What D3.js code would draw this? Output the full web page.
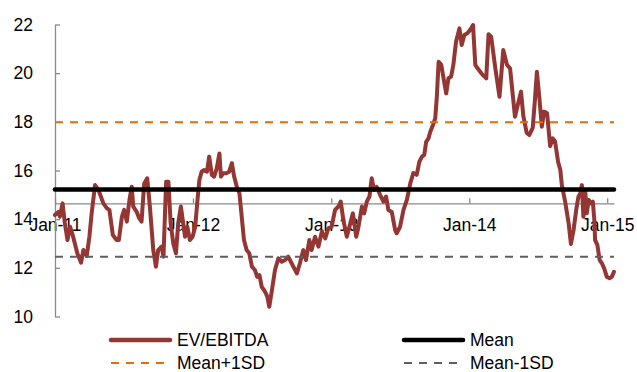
<!DOCTYPE html>
<html lang="en">
<head>
	<meta charset="UTF-8" />
	<title>EV/EBITDA</title>
	<script type="text/javascript" src="https://cdn.jsdelivr.net/npm/d3@7/dist/d3.min.js"></script>
	<style>
		body { margin: 0; background: #fff; }
		text { font-family: "Liberation Sans", Arial, sans-serif; fill: #000; }
	</style>
</head>
<body>
	<svg id="vis" width="637" height="372"></svg>
	<script type="text/javascript">
		// Dates of the EV/EBITDA readings
		var dates = [
			"2011-01-01","2011-01-10","2011-01-14","2011-01-21","2011-01-27","2011-02-03","2011-02-10","2011-02-18",
			"2011-03-01","2011-03-11","2011-03-17","2011-03-26","2011-04-02","2011-04-08","2011-04-17","2011-04-26",
			"2011-05-09","2011-05-18","2011-05-25","2011-06-03","2011-06-13","2011-06-19","2011-06-27","2011-07-03",
			"2011-07-10","2011-07-17","2011-07-23","2011-07-27","2011-08-05","2011-08-12","2011-08-18","2011-08-25",
			"2011-09-02","2011-09-09","2011-09-18","2011-09-25","2011-10-01","2011-10-10","2011-10-15","2011-10-22",
			"2011-10-28","2011-11-03","2011-11-10","2011-11-17","2011-11-23","2011-11-30","2011-12-05","2011-12-11",
			"2011-12-17","2011-12-24","2011-12-31","2012-01-07","2012-01-13","2012-01-18","2012-01-24","2012-01-30",
			"2012-02-07","2012-02-13","2012-02-20","2012-02-26","2012-03-04","2012-03-11","2012-03-15","2012-03-21",
			"2012-03-29","2012-04-06","2012-04-13","2012-04-19","2012-04-26","2012-05-03","2012-05-09","2012-05-15",
			"2012-05-22","2012-05-29","2012-06-05","2012-06-13","2012-06-19","2012-06-25","2012-07-01","2012-07-07",
			"2012-07-12","2012-07-16","2012-07-21","2012-07-28","2012-08-05","2012-08-14","2012-08-23","2012-09-01",
			"2012-09-09","2012-09-18","2012-10-02","2012-10-10","2012-10-19","2012-10-26","2012-11-04","2012-11-10",
			"2012-11-19","2012-11-28","2012-12-07","2012-12-16","2012-12-24","2013-01-02","2013-01-11","2013-01-20",
			"2013-01-26","2013-02-02","2013-02-11","2013-02-18","2013-02-27","2013-03-08","2013-03-14","2013-03-23",
			"2013-03-29","2013-04-05","2013-04-12","2013-04-18","2013-04-24","2013-05-01","2013-05-10","2013-05-19",
			"2013-05-26","2013-06-01","2013-06-10","2013-06-19","2013-06-23","2013-07-02","2013-07-11","2013-07-20",
			"2013-07-29","2013-08-06","2013-08-15","2013-08-22","2013-08-29","2013-09-04","2013-09-09","2013-09-15",
			"2013-09-20","2013-09-27","2013-10-03","2013-10-07","2013-10-12","2013-10-19","2013-10-25","2013-11-01",
			"2013-11-07","2013-11-14","2013-11-20","2013-11-27","2013-12-06","2013-12-12","2013-12-19","2013-12-27",
			"2014-01-03","2014-01-11","2014-01-17","2014-01-23","2014-01-30","2014-02-06","2014-02-15","2014-02-21",
			"2014-02-28","2014-03-11","2014-03-22","2014-04-01","2014-04-11","2014-04-19","2014-05-02","2014-05-11",
			"2014-05-18","2014-05-24","2014-06-02","2014-06-09","2014-06-18","2014-06-24","2014-06-29","2014-07-06",
			"2014-07-12","2014-07-18","2014-07-26","2014-08-03","2014-08-10","2014-08-16","2014-08-24","2014-08-30",
			"2014-09-03","2014-09-12","2014-09-21","2014-09-27","2014-10-04","2014-10-11","2014-10-17","2014-10-22",
			"2014-10-26","2014-10-30","2014-11-04","2014-11-08","2014-11-13","2014-11-19","2014-11-24","2014-11-28",
			"2014-11-30","2014-12-06","2014-12-12","2014-12-18","2014-12-24","2014-12-31","2015-01-07","2015-01-13",
			"2015-01-19"
		];

		// EV/EBITDA values (x)
		var evEbitda = [
			14.17, 14.30, 14.10, 14.65, 13.84, 13.14, 13.69, 13.28,
			12.60, 12.21, 12.73, 12.49, 13.28, 14.24, 15.40, 15.20,
			14.65, 14.45, 14.38, 13.35, 13.14, 13.14, 14.10, 14.38,
			13.90, 14.79, 15.33, 14.52, 14.30, 14.03, 13.90, 15.47,
			15.68, 14.52, 12.73, 12.05, 12.73, 12.87, 12.46, 15.54,
			15.54, 13.83, 13.00, 12.60, 13.83, 14.52, 13.96, 13.28,
			13.69, 13.14, 13.28, 13.69, 14.79, 15.61, 15.95, 16.02,
			15.95, 16.57, 15.82, 15.75, 16.09, 16.70, 15.75, 15.89,
			15.89, 15.95, 16.30, 15.75, 15.33, 15.06, 14.10, 13.14,
			12.73, 12.60, 12.05, 11.91, 11.63, 11.70, 11.22, 11.09,
			10.95, 10.80, 10.40, 11.09, 11.91, 12.39, 12.25, 12.32,
			12.46, 12.19, 11.77, 12.19, 12.73, 12.32, 13.14, 12.73,
			13.28, 12.87, 13.49, 13.21, 13.62, 13.69, 14.38, 14.52,
			14.72, 13.96, 13.28, 13.69, 14.24, 13.28, 13.69, 14.52,
			14.24, 14.72, 14.93, 15.68, 15.20, 15.33, 15.00, 14.72,
			14.93, 14.38, 14.30, 13.55, 13.42, 13.69, 14.38, 14.79,
			15.47, 15.90, 15.82, 16.36, 16.57, 16.64, 17.18, 17.32,
			17.59, 17.87, 18.14, 18.97, 20.47, 20.34, 19.79, 19.17,
			19.79, 19.86, 20.34, 21.29, 21.84, 21.16, 21.57, 21.64,
			21.77, 21.98, 20.34, 20.20, 20.06, 19.92, 19.79, 21.60,
			21.50, 20.20, 19.03, 20.95, 20.34, 20.20, 18.21, 18.80,
			19.24, 18.25, 17.55, 17.46, 17.75, 18.95, 20.06, 18.90,
			17.80, 18.42, 18.35, 17.00, 17.32, 17.20, 16.36, 16.02,
			15.40, 14.70, 13.83, 12.98, 13.55, 14.38, 14.93, 15.06,
			15.40, 14.10, 15.13, 14.24, 14.79, 14.65, 14.72, 13.96,
			13.14, 12.94, 12.32, 12.19, 11.98, 11.63, 11.57, 11.63,
			11.84
		];

		// Reference levels
		var meanValue = 15.22;
		var meanPlus1SD = 17.98;
		var meanMinus1SD = 12.46;
		var axisCrossing = 14.65;

		// Axis ticks
		var yTicks = [10, 12, 14, 16, 18, 20, 22];
		var xTickDates = ["2011-01-01", "2012-01-01", "2013-01-01", "2014-01-01", "2015-01-01"];
		var xTickLabels = ["Jan-11", "Jan-12", "Jan-13", "Jan-14", "Jan-15"];

		// Legend
		var legendNames = ["EV/EBITDA", "Mean", "Mean+1SD", "Mean-1SD"];

		var parseDate = d3.timeParse("%Y-%m-%d");
		var points = dates.map(function(d, i) {
			return { date: parseDate(d), value: evEbitda[i] };
		});
		var firstDate = points[0].date;
		var lastDate = points[points.length - 1].date;

		var svg = d3.select("#vis");
		var fontSize = "17.5px";

		// Echelles
		var scaleX = d3.scaleTime()
			.domain([parseDate("2011-01-01"), lastDate])
			.range([55, 614]);

		var scaleY = d3.scaleLinear()
			.domain([10, 22])
			.range([316.5, 24.5]);

		// Axe X (coupe l'axe Y a axisCrossing, ticks vers le haut)
		var xAxis = d3.axisBottom(scaleX)
			.tickValues(xTickDates.map(parseDate))
			.tickFormat(function(d, i) { return xTickLabels[i]; })
			.tickSizeInner(-5)
			.tickSizeOuter(0)
			.tickPadding(15.5);

		var gx = svg.append("g")
			.attr("transform", "translate(0," + scaleY(axisCrossing) + ")")
			.call(xAxis);
		gx.selectAll("path, line").attr("stroke", "#8a8a8a").attr("stroke-width", 1.3);
		gx.selectAll("text").style("font-size", fontSize).attr("fill", "#000");

		// Axe Y
		var yAxis = d3.axisLeft(scaleY)
			.tickValues(yTicks)
			.tickSizeInner(-5)
			.tickSizeOuter(0)
			.tickPadding(22);

		var gy = svg.append("g")
			.attr("transform", "translate(" + scaleX(firstDate) + ",0)")
			.call(yAxis);
		gy.selectAll("path, line").attr("stroke", "#8a8a8a").attr("stroke-width", 1.3);
		gy.selectAll("text").style("font-size", fontSize).attr("fill", "#000");

		// Serie EV/EBITDA
		var line = d3.line()
			.x(function(d) { return scaleX(d.date); })
			.y(function(d) { return scaleY(d.value); });

		svg.append("path")
			.datum(points)
			.attr("d", line)
			.attr("fill", "none")
			.attr("stroke", "#943634")
			.attr("stroke-width", 4)
			.attr("stroke-linejoin", "round")
			.attr("stroke-linecap", "round");

		// Lignes de reference
		var refLines = [
			{ value: meanValue, color: "#000", width: 4.5, dash: null, cap: "round" },
			{ value: meanPlus1SD, color: "#e46c0a", width: 2, dash: "8,7", cap: "butt" },
			{ value: meanMinus1SD, color: "#5f5f5f", width: 2, dash: "8,7", cap: "butt" }
		];

		refLines.forEach(function(r) {
			svg.append("path")
				.datum([firstDate, lastDate])
				.attr("d", d3.line()
					.x(function(d) { return scaleX(d); })
					.y(function() { return scaleY(r.value); }))
				.attr("fill", "none")
				.attr("stroke", r.color)
				.attr("stroke-width", r.width)
				.attr("stroke-dasharray", r.dash)
				.attr("stroke-linecap", r.cap);
		});

		// Legende
		var legendStyles = [
			{ color: "#943634", width: 4.5, dash: null, len: 59 },
			{ color: "#000", width: 4.5, dash: null, len: 59 },
			{ color: "#e46c0a", width: 2, dash: "8,7", len: 54 },
			{ color: "#5f5f5f", width: 2, dash: "8,7", len: 54 }
		];
		var legendX = [111, 404, 111, 404];
		var legendY = [340, 340, 363, 363];

		var gLegend = svg.append("g");
		legendNames.forEach(function(name, i) {
			var s = legendStyles[i];
			gLegend.append("line")
				.attr("x1", legendX[i])
				.attr("x2", legendX[i] + s.len)
				.attr("y1", legendY[i])
				.attr("y2", legendY[i])
				.attr("stroke", s.color)
				.attr("stroke-width", s.width)
				.attr("stroke-dasharray", s.dash)
				.attr("stroke-linecap", s.dash ? "butt" : "round");
			gLegend.append("text")
				.attr("x", legendX[i] + 66)
				.attr("y", legendY[i])
				.attr("dy", "0.35em")
				.style("font-size", fontSize)
				.text(name);
		});
	</script>
</body>
</html>
